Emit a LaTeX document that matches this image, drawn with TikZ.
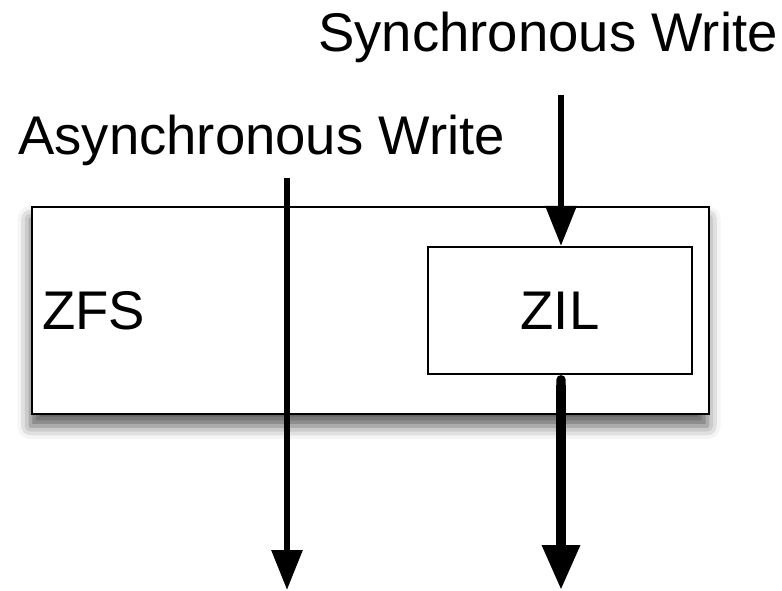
\documentclass[tikz,border=0pt]{standalone}
\usepackage{fontspec}
\setmainfont{Liberation Sans}
\usepackage{tikz}
\usetikzlibrary{arrows.meta,positioning,shadows.blur}

\begin{document}
\begin{tikzpicture}[
    layer/.style={rectangle, draw=black, fill=white, line width=1.2pt,
        inner sep=0pt, font=\fontsize{31}{37}\selectfont},
    label/.style={inner sep=0pt, anchor=base west, font=\fontsize{31}{37}\selectfont},
    write/.style={-{Triangle[length=0.8cm, width=0.6cm]}, line width=3.4pt},
    flush/.style={{Round Cap}-{Triangle[length=0.9cm, width=0.72cm]}, line width=5.4pt}
]
\useasboundingbox (0,0) rectangle (15.64,11.8);

% file system with the intent log inside
\node[layer, minimum width=13.54cm, minimum height=4.14cm,
    blur shadow={shadow xshift=-0.03cm, shadow yshift=-0.24cm,
        shadow blur radius=0.26cm, shadow opacity=65}]
    (zfs) at (7.41,5.59) {};
\node[label] (zfslbl) at (0.84,5.2) {ZFS};
\node[layer, minimum width=5.28cm, minimum height=2.54cm] (zil) at (11.2,5.59) {ZIL};

% incoming writes
\node[label] (async) at (0.36,8.7) {Asynchronous Write};
\node[label] (sync) at (6.36,10.76) {Synchronous Write};

\coordinate (asyncin) at (5.74,8.24);
\coordinate (asyncout) at (5.74,0);
\coordinate (syncin) at (11.22,9.9);
\coordinate (zilout) at (11.22,0);

\draw[write] (asyncin) -- (asyncout);
\draw[write] (syncin) -- (syncin |- zil.north);
\draw[flush] (zilout |- zil.south) -- (zilout);
\end{tikzpicture}
\end{document}
